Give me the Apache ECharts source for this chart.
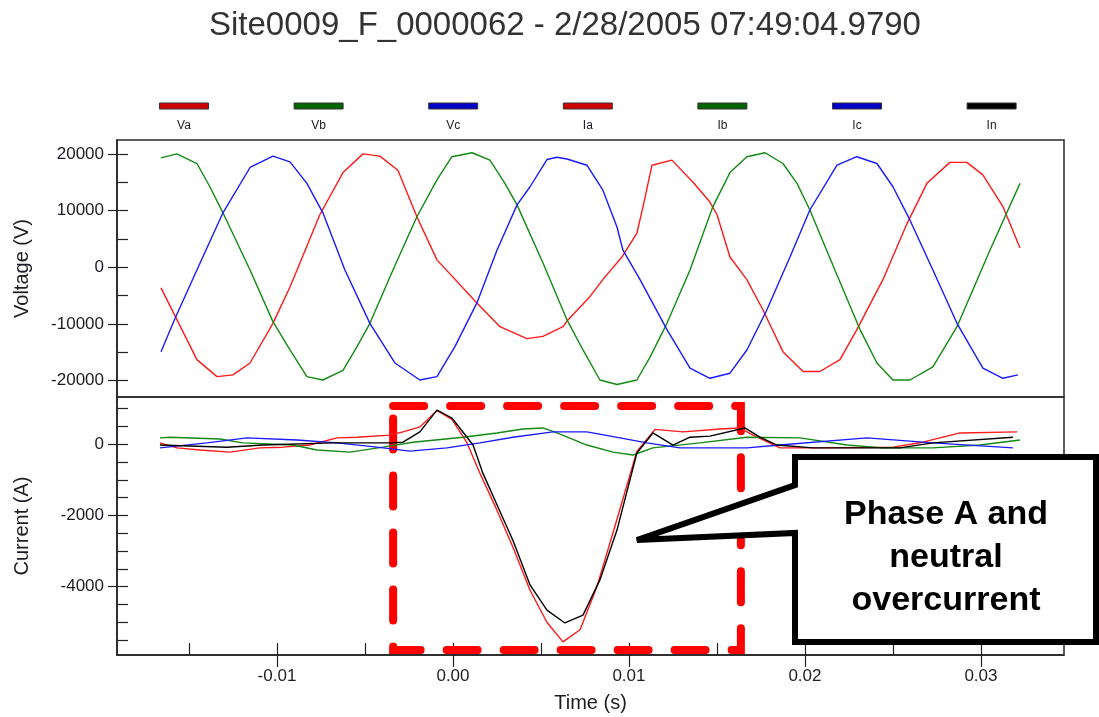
<!DOCTYPE html>
<html><head><meta charset="utf-8">
<script src="https://cdn.jsdelivr.net/npm/echarts@6/dist/echarts.min.js"></script>
<style>html,body{margin:0;padding:0;background:#fff}#chart{width:1099px;height:717px}</style>
</head><body><div id="chart"></div>
<script>
const chartTitle = 'Site0009_F_0000062 - 2/28/2005 07:49:04.9790';
const seriesNames = ['Va', 'Vb', 'Vc', 'Ia', 'Ib', 'Ic', 'In'];
const seriesColors = ['#ff1a1a', '#138a13', '#1a1aff', '#ff1a1a', '#138a13', '#1a1aff', '#000000'];
const legendColors = ['#d00000', '#006400', '#0000c8', '#d00000', '#006400', '#0000c8', '#000000'];

// [time (ms), value]
const va = [[-16.59,-3650],[-15.68,-9300],[-14.55,-16300],[-13.41,-19300],[-12.50,-19000],[-11.53,-16900],[-10.23,-9900],[-9.26,-3500],[-7.56,9300],[-6.25,16700],[-5.11,20000],[-4.15,19600],[-3.13,17100],[-2.05,8900],[-0.91,1300],[1.36,-6300],[2.67,-10500],[4.20,-12600],[5.11,-12200],[6.25,-10500],[6.53,-9300],[7.78,-5200],[8.64,-1700],[9.60,1800],[10.45,6000],[10.80,10700],[11.31,18000],[12.44,18900],[13.64,15000],[14.60,11500],[15.00,9300],[15.74,1800],[16.70,-2200],[17.61,-7500],[18.75,-14900],[19.89,-18400],[20.85,-18400],[21.99,-16300],[22.95,-11000],[24.43,-2200],[25.80,7700],[26.93,14800],[28.24,18500],[29.20,18500],[30.11,16300],[31.25,10700],[32.22,3400]];
const vb = [[-16.59,19300],[-15.68,20000],[-14.55,18300],[-13.81,14200],[-13.07,9600],[-11.53,-500],[-10.23,-9600],[-9.26,-14600],[-8.30,-19300],[-7.39,-19900],[-6.25,-18200],[-5.45,-14000],[-4.72,-9900],[-3.41,-500],[-2.05,8900],[-0.91,15400],[-0.06,19500],[1.08,20200],[2.10,18900],[2.95,14800],[3.64,11000],[5.11,800],[6.48,-9300],[7.39,-14600],[8.35,-19900],[9.32,-20700],[10.45,-19900],[11.19,-15900],[12.16,-9900],[13.47,-500],[14.77,10700],[15.74,16700],[16.70,19500],[17.73,20200],[18.75,18300],[19.55,14800],[20.28,10100],[21.70,-500],[23.13,-11000],[24.09,-16900],[25.00,-19900],[25.97,-19900],[27.27,-17600],[28.64,-10500],[30.51,3000],[32.22,14800]];
const vc = [[-16.59,-14900],[-15.80,-9100],[-14.55,-500],[-13.07,9600],[-11.53,17600],[-10.23,19600],[-9.26,18600],[-8.30,14800],[-7.39,9600],[-6.14,-500],[-4.72,-9900],[-3.30,-16900],[-1.88,-19900],[-0.91,-19300],[0.11,-14000],[1.36,-6300],[2.50,3000],[3.64,11000],[4.38,14200],[5.34,19000],[5.91,19400],[6.48,19100],[7.61,18000],[8.52,13600],[9.32,7100],[9.66,3000],[10.63,-2200],[12.16,-11000],[13.47,-17800],[14.60,-19600],[15.74,-18700],[16.70,-14600],[17.84,-7500],[19.15,1800],[20.28,10100],[21.82,18000],[22.95,19500],[24.09,18300],[25.00,14200],[25.97,8300],[27.27,-500],[28.64,-9900],[30.11,-17800],[31.25,-19600],[32.10,-19000]];
const ia = [[-16.65,40],[-15.68,-100],[-14.38,-160],[-12.67,-220],[-10.97,-100],[-9.66,-80],[-8.13,-20],[-6.59,180],[-5.45,200],[-3.58,260],[-2.84,350],[-1.88,490],[-0.91,950],[-0.06,700],[0.80,40],[1.53,-810],[2.50,-1850],[3.41,-2890],[4.38,-4100],[5.34,-5000],[6.25,-5550],[7.22,-5210],[8.18,-4000],[9.09,-2490],[10.45,-200],[11.48,420],[13.07,350],[15.17,430],[16.31,460],[17.05,260],[18.58,-100],[20.45,-100],[25.00,-80],[26.70,60],[28.81,320],[32.05,350]];
const ib = [[-16.65,180],[-16.08,200],[-13.24,150],[-11.93,40],[-9.09,-20],[-7.73,-160],[-5.85,-220],[-3.98,-80],[-2.27,60],[0.57,200],[2.50,320],[3.98,430],[5.11,460],[5.91,320],[7.61,-20],[9.09,-220],[10.23,-300],[11.36,-100],[14.03,40],[16.70,200],[19.72,180],[22.39,-20],[24.43,-100],[27.27,-100],[29.94,-20],[32.22,120]];
const ic = [[-16.65,-100],[-13.98,40],[-11.70,180],[-8.86,120],[-6.59,40],[-4.32,-80],[-2.44,-190],[-0.34,-100],[1.53,40],[3.41,200],[5.68,350],[7.61,350],[9.49,180],[11.02,40],[12.90,-100],[16.70,-100],[18.58,-20],[23.52,180],[27.27,40],[31.82,-100]];
const inNeutral = [[-16.65,-20],[-12.84,-80],[-10.80,-20],[-6.82,40],[-3.58,40],[-2.84,60],[-1.88,350],[-0.91,960],[-0.06,740],[1.14,-20],[1.70,-810],[2.50,-1700],[3.41,-2700],[4.38,-3950],[5.34,-4660],[6.36,-5020],[7.39,-4800],[8.35,-3810],[9.32,-2410],[10.45,-245],[11.36,320],[12.50,-20],[13.47,200],[14.60,230],[16.59,460],[17.44,200],[18.41,-20],[20.45,-100],[25.40,-100],[27.27,40],[31.82,200]];

const timeTicks = [-0.01, 0, 0.01, 0.02, 0.03];
const timeMinorTicks = [-0.015, -0.005, 0.005, 0.015, 0.025];
const voltageTicks = [-20000, -10000, 0, 10000, 20000];
const voltageMinorTicks = [-15000, -5000, 5000, 15000];
const currentTicks = [-4000, -2000, 0];
const currentMinorTicks = [-5500, -5000, -4500, -3500, -3000, -2500, -1500, -1000, -500, 500, 1000];
const timeRange = [-0.01909, 0.03472];
const voltageRange = [-22900, 22450];
const currentRange = [-5920, 1330];
const highlightTime = [-0.0034, 0.01636];
const highlightCurrent = [-5780, 1076];
const calloutLines = ['Phase A and', 'neutral', 'overcurrent'];
const calloutTarget = [0.01045, -2690];

const FONT = '"Liberation Sans", Arial, sans-serif';
const INK = '#1c1c24';
const toSec = pts => pts.map(p => [p[0] / 1000, p[1]]);

function mainY(grid, range, ticks, minor, name) {
  return {
    type: 'value', gridIndex: grid, min: range[0], max: range[1], position: 'left',
    name: name, nameLocation: 'middle', nameGap: 85, nameRotate: 90,
    nameTextStyle: { fontSize: 20, color: INK, fontFamily: FONT },
    axisLine: { show: true, onZero: false, lineStyle: { color: '#222', width: 1.5 } },
    axisTick: { show: true, inside: true, length: 11, customValues: ticks.concat(minor), lineStyle: { color: '#222', width: 1.2 } },
    axisLabel: { show: true, customValues: ticks, formatter: v => String(Math.round(v)), fontSize: 17, margin: 13, color: INK, fontFamily: FONT },
    splitLine: { show: false }
  };
}
function overlayY(grid, range, ticks) {
  return {
    type: 'value', gridIndex: grid, min: range[0], max: range[1], position: 'left', offset: 0,
    axisLine: { show: false, onZero: false },
    axisTick: { show: true, inside: false, length: 9, customValues: ticks, lineStyle: { color: '#222', width: 1.2 } },
    axisLabel: { show: false }, splitLine: { show: false }
  };
}

const chart = echarts.init(document.getElementById('chart'), null, { renderer: 'canvas' });

const seriesData = [va, vb, vc, ia, ib, ic, inNeutral];
const series = seriesData.map((d, i) => {
  const s = {
    type: 'line', name: seriesNames[i], data: toSec(d),
    xAxisIndex: i < 3 ? 0 : 1, yAxisIndex: i < 3 ? 0 : 2,
    symbol: 'none', showSymbol: false, clip: true,
    lineStyle: { color: seriesColors[i], width: 1.4 },
    itemStyle: { color: seriesColors[i] },
    emphasis: { disabled: true }, z: 3
  };
  if (seriesNames[i] === 'In') {
    s.markArea = {
      silent: true,
      itemStyle: { color: 'rgba(0,0,0,0)', borderColor: '#ff0000', borderWidth: 8, borderType: [31, 26], borderCap: 'round' },
      label: { show: false },
      emphasis: { disabled: true },
      data: [[{ coord: [highlightTime[0], highlightCurrent[1]] }, { coord: [highlightTime[1], highlightCurrent[0]] }]]
    };
  }
  return s;
});

const legendGraphics = [];
seriesNames.forEach((n, i) => {
  const cx = 184 + i * 134.6;
  legendGraphics.push({ type: 'rect', shape: { x: cx - 24.5, y: 103, width: 49, height: 6 }, style: { fill: legendColors[i], stroke: '#333', lineWidth: 1 }, z: 10 });
  legendGraphics.push({ type: 'text', x: cx, y: 126, style: { text: n, textAlign: 'center', textVerticalAlign: 'middle', font: '12px ' + FONT, fill: INK }, z: 10 });
});

const option = {
  animation: false,
  backgroundColor: '#ffffff',
  title: { text: chartTitle, left: 209, top: 9, padding: 0, textStyle: { fontSize: 33, fontWeight: 'normal', color: '#333', fontFamily: FONT } },
  grid: [
    { left: 117, right: 35, top: 140, height: 257, show: true, borderColor: '#2a2a2a', borderWidth: 1.5, backgroundColor: 'rgba(0,0,0,0)' },
    { left: 117, right: 35, top: 397, height: 258, show: true, borderColor: '#2a2a2a', borderWidth: 1.5, backgroundColor: 'rgba(0,0,0,0)' }
  ],
  xAxis: [
    { type: 'value', gridIndex: 0, min: timeRange[0], max: timeRange[1], position: 'bottom', axisLine: { show: false, onZero: false }, axisTick: { show: false }, axisLabel: { show: false }, splitLine: { show: false } },
    {
      type: 'value', gridIndex: 1, min: timeRange[0], max: timeRange[1], position: 'bottom',
      name: 'Time (s)', nameLocation: 'middle', nameGap: 38,
      nameTextStyle: { fontSize: 20, color: INK, fontFamily: FONT },
      axisLine: { show: true, onZero: false, lineStyle: { color: '#222', width: 1.5 } },
      axisTick: { show: true, inside: true, length: 12, customValues: timeTicks.concat(timeMinorTicks), lineStyle: { color: '#222', width: 1.2 } },
      axisLabel: { show: true, customValues: timeTicks, formatter: v => Number(v).toFixed(2), fontSize: 17, margin: 13, color: INK, fontFamily: FONT },
      splitLine: { show: false }
    },
    {
      type: 'value', gridIndex: 1, min: timeRange[0], max: timeRange[1], position: 'bottom', offset: 0,
      axisLine: { show: false, onZero: false },
      axisTick: { show: true, inside: false, length: 12, customValues: timeTicks, lineStyle: { color: '#222', width: 1.2 } },
      axisLabel: { show: false }, splitLine: { show: false }
    }
  ],
  yAxis: [
    mainY(0, voltageRange, voltageTicks, voltageMinorTicks, 'Voltage (V)'),
    overlayY(0, voltageRange, voltageTicks),
    mainY(1, currentRange, currentTicks, currentMinorTicks, 'Current (A)'),
    overlayY(1, currentRange, currentTicks)
  ],
  series: series,
  graphic: legendGraphics
};
chart.setOption(option);

const tip = chart.convertToPixel({ xAxisIndex: 1, yAxisIndex: 2 }, calloutTarget);
const box = { l: 795, t: 457, r: 1096, b: 642, p1: 485, p2: 533 };
chart.setOption({
  graphic: legendGraphics.concat([
    {
      type: 'polygon', z: 20,
      shape: { points: [[box.l, box.t], [box.r, box.t], [box.r, box.b], [box.l, box.b], [box.l, box.p2], tip, [box.l, box.p1]] },
      style: { fill: '#ffffff', stroke: '#000000', lineWidth: 6, lineJoin: 'miter', miterLimit: 3 }
    },
    {
      type: 'text', z: 21, x: 946, y: 558,
      style: { text: calloutLines.join('\n'), textAlign: 'center', textVerticalAlign: 'middle', font: 'bold 34px ' + FONT, lineHeight: 43, fill: '#000' }
    }
  ])
});
</script></body></html>
